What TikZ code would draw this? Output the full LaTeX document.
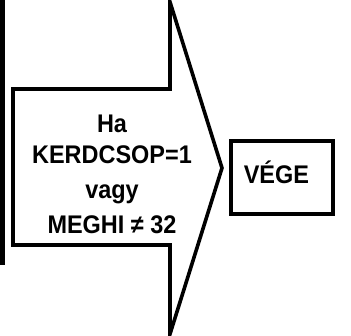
\documentclass[tikz,border=0pt]{standalone}
\usepackage{fontspec}
\setmainfont{Liberation Sans}
\newfontfamily\narrowsans[FakeStretch=0.92]{Liberation Sans}
\begin{document}
\begin{tikzpicture}[x=1pt,y=-1pt,
  outline/.style={draw=black,line width=3.6pt,line join=miter},
  bigfont/.style={font=\narrowsans\bfseries\fontsize{25.5}{33.7}\selectfont},
  txt/.style={bigfont,inner sep=0pt,anchor=base}]
\useasboundingbox (0,0) rectangle (351,335);
% left bar
\fill[black] (0,0) rectangle (4.5,265);
% arrow shape
\coordinate (a1) at (13,89);
\coordinate (a2) at (170,89);
\coordinate (a3) at (170,2);
\coordinate (tip) at (222,168);
\coordinate (a5) at (170,334);
\coordinate (a6) at (170,245);
\coordinate (a7) at (13,245);
\draw[outline] (a1) -- (a2) -- (a3) -- (tip) -- (a5) -- (a6) -- (a7) -- cycle;
\node[txt] (l1) at (112,132) {Ha};
\node[txt] (l2) at (112,163) {KERDCSOP=1};
\node[txt] (l3) at (112,198) {vagy};
\node[txt] (l4) at (112,233) {MEGHI ≠ 32};
% end box
\node[outline,bigfont,anchor=base west,
  inner xsep=13pt,inner ysep=0pt,text width=76pt,align=left,
  text height=42pt,text depth=31pt] (vege) at (229,183) {VÉGE};
\end{tikzpicture}
\end{document}
